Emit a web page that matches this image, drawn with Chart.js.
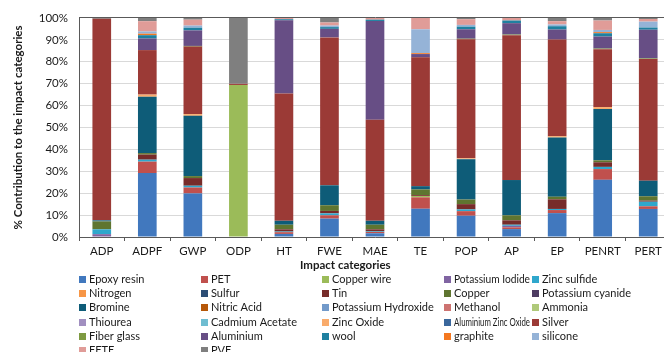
<!DOCTYPE html>
<html><head><meta charset="utf-8">
<script src="https://cdn.jsdelivr.net/npm/chart.js@4/dist/chart.umd.min.js"></script>
<style>
html,body{margin:0;padding:0;background:#fff;overflow:hidden;width:664px;height:352px}
#wrap{position:relative;width:672px;height:352px}
</style></head>
<body><div id="wrap"><canvas id="c" width="672" height="352"></canvas></div>
<script>
// Categories (x axis)
const categories = ['ADP','ADPF','GWP','ODP','HT','FWE','MAE','TE','POP','AP','EP','PENRT','PERT'];
const yAxisTitle = '% Contribution to the impact categories';
const xAxisTitle = 'Impact categories';

// Series values (% contribution)
const epoxyResin        = [0, 29.2, 19.9, 0, 1.4, 8.4, 1.7, 12.9, 9.7, 3.6, 10.9, 26.1, 12.8];
const pet               = [0, 5.2, 2.7, 0, 0.8, 1.5, 0.6, 5.2, 2.1, 0.8, 1.4, 4.9, 1.2];
const copperWire        = [0, 0, 0, 69.4, 0, 0, 0, 0.6, 0, 0, 0, 0, 0];
const potassiumIodide   = [1.3, 0, 0, 0, 0, 0, 0, 0, 0, 0.7, 0, 0, 0];
const zincSulfide       = [2.2, 0.9, 0.8, 0, 0.3, 0.9, 0.3, 0, 0.8, 0.5, 0.5, 1.0, 2.1];
const nitrogen          = [0, 0, 0, 0, 0, 0, 0, 0, 0, 0, 0, 0, 0];
const sulfur            = [0, 0, 0, 0, 0, 0, 0, 0, 0, 0, 0, 0, 0];
const tin               = [0, 2.3, 3.5, 0, 1.0, 1.1, 0.9, 0.4, 2.4, 2.0, 4.4, 2.1, 0.5];
const copper            = [3.6, 0.7, 0.9, 0, 2.1, 2.6, 2.1, 2.6, 2.1, 2.3, 1.2, 0.9, 2.0];
const potassiumCyanide  = [0, 0, 0, 0, 0, 0, 0, 0, 0, 0, 0, 0, 0];
const bromine           = [0.5, 25.7, 27.5, 0, 1.8, 9.1, 1.8, 1.5, 18.4, 16.1, 27.0, 23.4, 7.1];
const nitricAcid        = [0, 0, 0, 0, 0, 0, 0, 0, 0, 0, 0, 0, 0];
const potassiumHydroxide= [0, 0, 0, 0, 0, 0, 0, 0, 0, 0, 0, 0, 0];
const methanol          = [0, 0, 0, 0, 0, 0, 0, 0, 0, 0, 0, 0, 0];
const ammonia           = [0, 0, 0, 0, 0, 0, 0, 0, 0, 0, 0, 0, 0];
const thiourea          = [0, 0, 0, 0, 0, 0, 0, 0, 0, 0, 0, 0, 0];
const cadmiumAcetate    = [0, 0, 0, 0, 0, 0, 0, 0, 0, 0, 0, 0, 0];
const zincOxide         = [0, 1.0, 0.8, 0, 0, 0, 0, 0, 0.4, 0, 0.6, 0.9, 0];
const aluminiumZincOxide= [0, 0, 0, 0, 0, 0, 0, 0, 0, 0, 0, 0, 0];
const silver            = [92.0, 20.3, 30.8, 0.5, 58.1, 67.5, 46.1, 58.8, 54.3, 66.1, 44.1, 26.4, 55.5];
const fiberGlass        = [0, 0, 0.3, 0, 0, 0, 0, 0, 0.3, 0.3, 0, 0.3, 0.3];
const aluminium         = [0, 5.3, 7.1, 0, 33.4, 3.9, 45.1, 1.5, 4.3, 5.2, 4.6, 5.5, 13.1];
const wool              = [0, 1.5, 1.2, 0, 0.5, 0.8, 0.6, 0, 1.2, 1.2, 1.5, 1.5, 1.0];
const graphite          = [0, 0.7, 0, 0, 0, 0, 0, 0.4, 0, 0, 0, 0.5, 0];
const silicone          = [0, 1.0, 1.0, 0, 0, 0.7, 0, 10.9, 0.8, 0, 0.8, 1.0, 2.7];
const efte              = [0, 4.7, 2.7, 0, 0.6, 1.4, 0.8, 5.2, 2.6, 1.2, 1.5, 4.3, 1.2];
const pvf               = [0.4, 1.5, 0.8, 30.1, 0, 2.1, 0, 0, 0.6, 0, 1.5, 1.2, 0.5];

// y tick values
const yTicks = [0,10,20,30,40,50,60,70,80,90,100];

const series = [
  ['Epoxy resin', epoxyResin, '#4178BE'],
  ['PET', pet, '#C0504D'],
  ['Copper wire', copperWire, '#9BBB59'],
  ['Potassium Iodide', potassiumIodide, '#8064A2'],
  ['Zinc sulfide', zincSulfide, '#2FA7CC'],
  ['Nitrogen', nitrogen, '#F79646'],
  ['Sulfur', sulfur, '#2C4D75'],
  ['Tin', tin, '#772C2A'],
  ['Copper', copper, '#5F7530'],
  ['Potassium cyanide', potassiumCyanide, '#4D3B62'],
  ['Bromine', bromine, '#0E5C78'],
  ['Nitric Acid', nitricAcid, '#B65708'],
  ['Potassium Hydroxide', potassiumHydroxide, '#729ACA'],
  ['Methanol', methanol, '#CD7371'],
  ['Ammonia', ammonia, '#AFC97A'],
  ['Thiourea', thiourea, '#A18FC0'],
  ['Cadmium Acetate', cadmiumAcetate, '#6FBDD1'],
  ['Zinc Oxide', zincOxide, '#F9AB6B'],
  ['Aluminium Zinc Oxide', aluminiumZincOxide, '#3A679C'],
  ['Silver', silver, '#9B3A36'],
  ['Fiber glass', fiberGlass, '#7E9A41'],
  ['Aluminium', aluminium, '#674E85'],
  ['wool', wool, '#1F80A0'],
  ['graphite', graphite, '#F47820'],
  ['silicone', silicone, '#95B3D7'],
  ['EFTE', efte, '#E09C98'],
  ['PVF', pvf, '#7F7F7F']
];

const FONT = 'Lato';
const legendCols = [79, 201, 322, 444, 532, 672];

const gridLegend = {
  id: 'gridLegend',
  afterDraw(chart) {
    const ctx = chart.ctx;
    ctx.save();
    ctx.font = '11px ' + FONT;
    ctx.textBaseline = 'middle';
    ctx.textAlign = 'left';
    chart.data.datasets.forEach((ds, i) => {
      const col = i % 5, row = Math.floor(i / 5);
      const x = legendCols[col];
      const maxW = legendCols[col + 1] - x - 12;
      const y = 279 + row * 14.35;
      ctx.fillStyle = ds.backgroundColor;
      ctx.fillRect(x, Math.round(y - 3.5), 7, 7);
      ctx.fillStyle = '#1a1a1a';
      ctx.fillText(ds.label, x + 10, y, maxW);
    });
    ctx.font = 'bold 11.5px ' + FONT;
    ctx.fillText(xAxisTitle, 300, 265.5);
    ctx.restore();
  }
};

function build() {
  new Chart(document.getElementById('c'), {
    type: 'bar',
    data: {
      labels: categories,
      datasets: series.map(([label, data, color]) => ({
        label, data, backgroundColor: color, borderWidth: 0,
        barPercentage: 0.41, categoryPercentage: 1.0
      }))
    },
    options: {
      responsive: false,
      animation: false,
      devicePixelRatio: 1,
      layout: { padding: { top: 17, right: 1, left: 0, bottom: 0 } },
      plugins: { legend: { display: false }, tooltip: { enabled: false } },
      scales: {
        x: {
          stacked: true,
          grid: { offset: true, drawOnChartArea: false, drawTicks: true, tickLength: 4, color: '#595959' },
          border: { display: true, color: '#595959' },
          ticks: { padding: 3, color: '#1a1a1a', font: { family: FONT, size: 11.5 }, maxRotation: 0, autoSkip: false },
          afterFit: s => { s.height = 352 - 237; }
        },
        y: {
          stacked: true, min: 0, max: 100,
          afterBuildTicks: s => { s.ticks = yTicks.map(v => ({ value: v })); },
          ticks: { callback: v => v + '%', padding: 11, color: '#1a1a1a', font: { family: FONT, size: 11.5 } },
          grid: { color: c => (c.tick && c.tick.value === 100) ? '#595959' : '#D9D9D9', drawTicks: false, lineWidth: 1 },
          border: { display: true, color: '#595959' },
          title: { display: true, text: yAxisTitle, color: '#1a1a1a', font: { family: FONT, size: 11.5, weight: 'bold' }, padding: { top: 11, bottom: 0 } },
          afterFit: s => { s.width = 79; }
        }
      }
    },
    plugins: [gridLegend]
  });
}
if (document.fonts && document.fonts.load) {
  Promise.all([document.fonts.load('11.5px Lato'), document.fonts.load('bold 11.5px Lato')]).then(build, build);
} else build();
</script>
</body></html>
